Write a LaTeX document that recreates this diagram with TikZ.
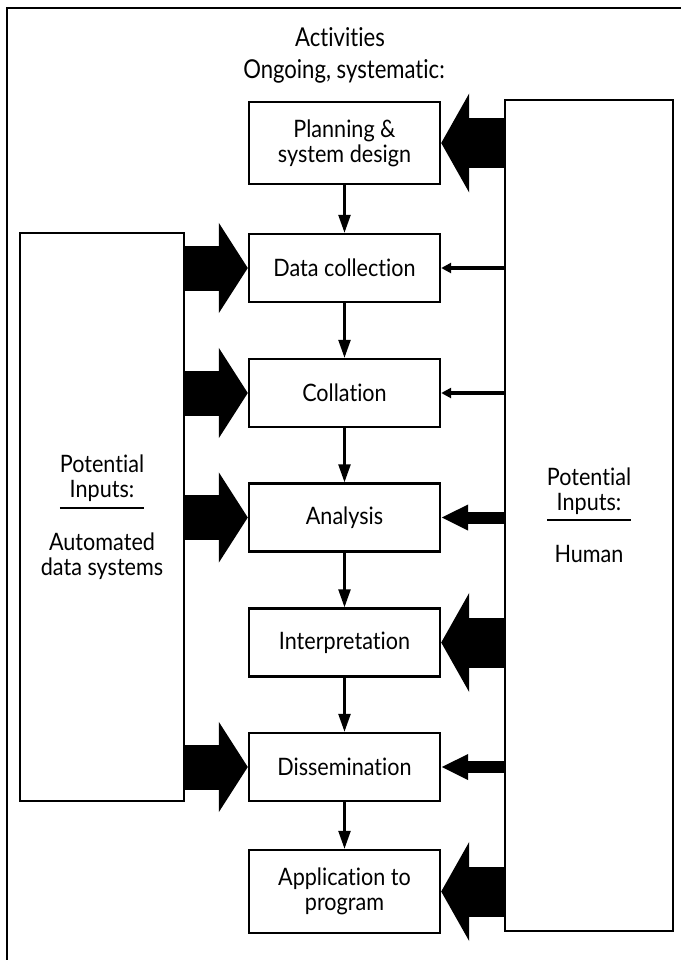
\documentclass[tikz,border=0pt]{standalone}
\usepackage{fontspec}
\setmainfont{Lato}[FakeStretch=0.9, RawFeature=-liga]
\newfontfamily\narrowfont[FakeStretch=0.85, RawFeature=-liga]{Lato}
\usetikzlibrary{arrows.meta}

\tikzset{
  activity/.style={draw, line width=1.2pt, minimum width=95.5pt, minimum height=34pt,
    align=center, inner sep=0pt, font=\fontsize{12}{12.5}\selectfont},
  source/.style={draw, line width=1.2pt, align=center, inner sep=0pt,
    font=\fontsize{12}{12.5}\selectfont},
  heading/.style={font=\narrowfont\fontsize{13}{13.5}\selectfont},
  flow/.style={-{Triangle[length=9pt,width=6pt]}, line width=1.2pt},
  thininput/.style={-{Triangle[length=5pt,width=5pt]}, line width=1.8pt},
  midinput/.style={-{Triangle[length=13.5pt,width=12pt]}, line width=6pt},
  biginput/.style={-{Triangle[length=14pt,width=49pt]}, line width=25pt},
  leftinput/.style={-{Triangle[length=14.5pt,width=44.5pt]}, line width=22.5pt},
}

\begin{document}
\begin{tikzpicture}[x=0.5pt, y=-0.5pt]
    % frame (cut at the right and bottom)
    \clip (0,0) rectangle (681,960);
    \draw[line width=1.2pt] (7,8) rectangle (720,1000);

    % headings
    \node[heading] (title) at (340,37) {Activities};
    \node[heading] (subtitle) at (344,71) {Ongoing, systematic:};

    % activities
    \node[activity, minimum height=41pt] (plan) at (344.5,143) {Planning \&\\system design};
    \node[activity] (collect) at (344.5,268) {Data collection};
    \node[activity] (collate) at (344.5,393) {Collation};
    \node[activity] (analyse) at (344.5,517.5) {Analysis};
    \node[activity] (interp) at (344.5,642.5) {Interpretation};
    \node[activity] (dissem) at (344.5,767) {Dissemination};
    \node[activity, minimum height=41.5pt] (apply) at (344.5,891.5) {Application to\\program};

    % input sources
    \node[source, minimum width=82pt, minimum height=284pt] (auto) at (102,517)
      {Potential\\Inputs:\\[-6.5pt]\rule{42pt}{1pt}\\[8pt]Automated\\data systems};
    \node[source, minimum width=84pt, minimum height=415.5pt] (human) at (589,515.5)
      {Potential\\Inputs:\\[-7.5pt]\rule{42pt}{1pt}\\[8.5pt]Human};

    % flow between activities
    \draw[flow] (plan) -- (collect);
    \draw[flow] (collect) -- (collate);
    \draw[flow] (collate) -- (analyse);
    \draw[flow] (analyse) -- (interp);
    \draw[flow] (interp) -- (dissem);
    \draw[flow] (dissem) -- (apply);

    % automated inputs
    \draw[leftinput] (auto.east |- collect) -- (collect.west);
    \draw[leftinput] (auto.east |- collate) -- (collate.west);
    \draw[leftinput] (auto.east |- analyse) -- (analyse.west);
    \draw[leftinput] (auto.east |- dissem) -- (dissem.west);

    % human inputs
    \draw[biginput] (human.west |- plan) -- (plan.east);
    \draw[thininput] (human.west |- collect) -- (collect.east);
    \draw[thininput] (human.west |- collate) -- (collate.east);
    \draw[midinput] (human.west |- analyse) -- (analyse.east);
    \draw[biginput] (human.west |- interp) -- (interp.east);
    \draw[midinput] (human.west |- dissem) -- (dissem.east);
    \draw[biginput] (human.west |- apply) -- (apply.east);
\end{tikzpicture}
\end{document}
